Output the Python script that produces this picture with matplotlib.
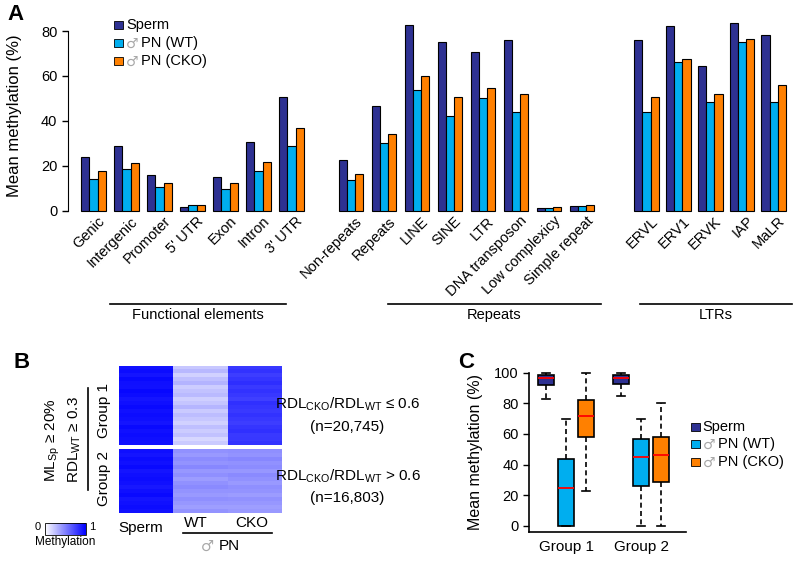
import matplotlib
matplotlib.use('Agg')
import matplotlib.pyplot as plt
import numpy as np
from matplotlib.patches import Rectangle
from matplotlib.lines import Line2D
from matplotlib.colors import LinearSegmentedColormap
import matplotlib.transforms as mtransforms

plt.rcParams['font.family'] = ['Liberation Sans', 'DejaVu Sans']
plt.rcParams['mathtext.fontset'] = 'custom'
plt.rcParams['mathtext.rm'] = 'Liberation Sans'
plt.rcParams['mathtext.it'] = 'Liberation Sans:italic'
plt.rcParams['mathtext.bf'] = 'Liberation Sans:bold'

# ---------------- Data: panel A ----------------
func_cats = ['Genic', 'Intergenic', 'Promoter', "5' UTR", 'Exon', 'Intron', "3' UTR"]
func_sperm = [23.7, 28.8, 15.9, 1.7, 14.8, 30.5, 50.7]
func_wt = [14.1, 18.4, 10.4, 2.3, 9.6, 17.5, 28.8]
func_cko = [17.5, 21.1, 12.4, 2.5, 12.1, 21.6, 36.7]

rep_cats = ['Non-repeats', 'Repeats', 'LINE', 'SINE', 'LTR', 'DNA transposon',
            'Low complexicy', 'Simple repeat']
rep_sperm = [22.4, 46.6, 82.7, 75.1, 70.5, 76.1, 1.0, 2.0]
rep_wt = [13.5, 30.1, 53.7, 42.3, 50.3, 43.8, 1.3, 2.1]
rep_cko = [16.4, 34.1, 60.0, 50.6, 54.6, 51.8, 1.5, 2.6]

ltr_cats = ['ERVL', 'ERV1', 'ERVK', 'IAP', 'MaLR']
ltr_sperm = [75.8, 82.2, 64.4, 83.4, 78.1]
ltr_wt = [44.1, 66.3, 48.4, 75.2, 48.4]
ltr_cko = [50.6, 67.5, 52.0, 76.4, 55.8]

section_names = ['Functional elements', 'Repeats', 'LTRs']
series_names = ['Sperm', 'PN (WT)', 'PN (CKO)']
colors = ['#2E3192', '#00AEEF', '#FF8000']

# ---------------- Data: panel B (heatmap rows) ----------------
g1_sperm = [0.93, 0.95, 0.92, 0.96, 0.94, 0.93, 0.97, 0.95, 0.92, 0.94,
            0.96, 0.93, 0.95, 0.94, 0.92, 0.96, 0.93, 0.95, 0.94, 0.93]
g1_wt = [0.22, 0.28, 0.18, 0.25, 0.30, 0.20, 0.24, 0.27, 0.19, 0.23,
         0.29, 0.21, 0.26, 0.22, 0.18, 0.25, 0.20, 0.24, 0.16, 0.21]
g1_cko = [0.78, 0.80, 0.76, 0.79, 0.82, 0.77, 0.80, 0.78, 0.75, 0.81,
          0.79, 0.77, 0.80, 0.78, 0.76, 0.79, 0.81, 0.77, 0.78, 0.80]
g2_sperm = [0.94, 0.92, 0.95, 0.93, 0.96, 0.92, 0.94, 0.95, 0.93, 0.91,
            0.94, 0.96, 0.92, 0.93, 0.95, 0.93]
g2_wt = [0.43, 0.40, 0.45, 0.42, 0.47, 0.41, 0.44, 0.39, 0.43, 0.46,
         0.42, 0.40, 0.44, 0.41, 0.38, 0.42]
g2_cko = [0.44, 0.42, 0.47, 0.43, 0.45, 0.41, 0.46, 0.43, 0.40, 0.44,
          0.42, 0.39, 0.43, 0.41, 0.38, 0.40]
heat_cols = ['Sperm', 'WT', 'CKO']

# ---------------- Data: panel C (box stats) ----------------
box_groups = ['Group 1', 'Group 2']
# order per group: Sperm, WT, CKO ; (whislo, q1, med, q3, whishi)
box_g1 = [(82.8, 92.2, 96.7, 98.5, 100.0),
          (0.0, 0.0, 24.8, 43.8, 69.7),
          (22.7, 58.2, 71.7, 82.2, 100.0)]
box_g2 = [(85.0, 92.8, 96.5, 98.5, 100.0),
          (0.0, 26.1, 45.1, 56.7, 69.7),
          (0.0, 28.8, 46.2, 58.2, 80.4)]

# ---------------- Figure ----------------
W, H = 800, 561
fig = plt.figure(figsize=(W / 100, H / 100), dpi=100)

MALE = '\u2642'
MALE_KW = dict(family=['DejaVu Sans', 'Liberation Sans'], color='#a8a8a8')


def fx(px):
    return px / W


def fy(py):
    return 1 - py / H


def line(x0, y0, x1, y1, lw=1.2):
    fig.add_artist(Line2D([fx(x0), fx(x1)], [fy(y0), fy(y1)],
                          transform=fig.transFigure, color='black', lw=lw))


def legend(xsq, ys, fs=10.5):
    for y, c, name in zip(ys, colors, series_names):
        fig.add_artist(Rectangle((fx(xsq), fy(y + 4)), 9 / W, 8 / H,
                                 transform=fig.transFigure, facecolor=c,
                                 edgecolor='black', lw=0.6))
        if name == 'Sperm':
            fig.text(fx(xsq + 12), fy(y), name, va='center', ha='left', fontsize=fs)
        else:
            fig.text(fx(xsq + 12), fy(y + 0.5), MALE, va='center', ha='left',
                     fontsize=fs - 0.5, **MALE_KW)
            fig.text(fx(xsq + 27), fy(y), name, va='center', ha='left', fontsize=fs)


# ---------------- Panel A ----------------
axA = fig.add_axes([fx(67.7), fy(210.6), fx(795) - fx(67.7), (210.6 - 19.8) / H])
sections = [(func_cats, func_sperm, func_wt, func_cko, 0.0, 1.0),
            (rep_cats, rep_sperm, rep_wt, rep_cko, 7.8, 1.0),
            (ltr_cats, ltr_sperm, ltr_wt, ltr_cko, 16.75, 0.965)]
all_pos, all_labels = [], []
for cats, s, w, c, start, step in sections:
    pos = start + step * np.arange(len(cats))
    for k, vals in enumerate([s, w, c]):
        axA.bar(pos + (k - 1) * 0.25, vals, width=0.25, color=colors[k],
                edgecolor='black', linewidth=0.8, clip_on=False)
    all_pos.extend(pos)
    all_labels.extend(cats)

axA.set_xlim(-0.78, 21.25)
axA.set_ylim(0, 85)
axA.set_yticks([0, 20, 40, 60, 80])
axA.tick_params(axis='y', labelsize=10.5, length=4, width=1)
axA.spines['left'].set_bounds(0, 80)
for sp in ['top', 'right', 'bottom']:
    axA.spines[sp].set_visible(False)
axA.set_xticks(all_pos)
axA.set_xticklabels(all_labels, rotation=45, ha='right', va='center',
                    rotation_mode='anchor', fontsize=10.5)
axA.tick_params(axis='x', length=0, pad=6)
offset = mtransforms.ScaledTranslation(9 / 100, 0, fig.dpi_scale_trans)
for lab in axA.get_xticklabels():
    lab.set_transform(lab.get_transform() + offset)
axA.set_ylabel('Mean methylation (%)', fontsize=12)
axA.yaxis.set_label_coords(-0.063, 0.5)

line(110, 304, 286, 304)
fig.text(fx(198), fy(315), section_names[0], ha='center', va='center', fontsize=10.5)
line(388, 304, 600.7, 304)
fig.text(fx(494), fy(315), section_names[1], ha='center', va='center', fontsize=10.5)
line(640, 304, 791.7, 304)
fig.text(fx(716), fy(315), section_names[2], ha='center', va='center', fontsize=10.5)

legend(114, [25, 43, 61])
fig.text(fx(15), fy(15), 'A', fontsize=16, weight='bold', ha='center', va='center')

# ---------------- Panel B ----------------
cmap = LinearSegmentedColormap.from_list('wb', ['#FFFFFF', '#0000FF'])
axB1 = fig.add_axes([fx(119), fy(445), fx(281.7) - fx(119), (445 - 365.7) / H])
axB2 = fig.add_axes([fx(119), fy(512.7), fx(281.7) - fx(119), (512.7 - 449.3) / H])
im = axB1.imshow(np.column_stack([g1_sperm, g1_wt, g1_cko]), aspect='auto',
                 cmap=cmap, vmin=0, vmax=1, interpolation='nearest')
axB2.imshow(np.column_stack([g2_sperm, g2_wt, g2_cko]), aspect='auto',
            cmap=cmap, vmin=0, vmax=1, interpolation='nearest')
for a in (axB1, axB2):
    a.set_axis_off()

fig.text(fx(53), fy(440), r'ML$_{\mathrm{Sp}}$ ≥ 20%', rotation=90,
         ha='center', va='center', fontsize=11)
fig.text(fx(75), fy(440), r'RDL$_{\mathrm{WT}}$ ≥ 0.3', rotation=90,
         ha='center', va='center', fontsize=11)
line(88.3, 388, 88.3, 490)
fig.text(fx(104), fy(410), box_groups[0], rotation=90, ha='center', va='center', fontsize=11)
fig.text(fx(104), fy(479), box_groups[1], rotation=90, ha='center', va='center', fontsize=11)

fig.text(fx(348), fy(404), r'RDL$_{\mathrm{CKO}}$/RDL$_{\mathrm{WT}}$ ≤ 0.6',
         ha='center', va='center', fontsize=11)
fig.text(fx(347), fy(427), '(n=20,745)', ha='center', va='center', fontsize=11)
fig.text(fx(348), fy(476.7), r'RDL$_{\mathrm{CKO}}$/RDL$_{\mathrm{WT}}$ > 0.6',
         ha='center', va='center', fontsize=11)
fig.text(fx(347), fy(498.3), '(n=16,803)', ha='center', va='center', fontsize=11)

fig.text(fx(141), fy(528), heat_cols[0], ha='center', va='center', fontsize=11)
fig.text(fx(196), fy(523), heat_cols[1], ha='center', va='center', fontsize=11)
fig.text(fx(251.7), fy(523), heat_cols[2], ha='center', va='center', fontsize=11)
line(182.7, 532.7, 271.7, 532.7)
fig.text(fx(207), fy(546), MALE, ha='center', va='center', fontsize=10.5, **MALE_KW)
fig.text(fx(229), fy(546), 'PN', ha='center', va='center', fontsize=11)

cax = fig.add_axes([fx(45), fy(535), fx(86) - fx(45), 12 / H])
cb = fig.colorbar(im, cax=cax, orientation='horizontal')
cb.set_ticks([])
cb.outline.set_linewidth(0.6)
fig.text(fx(38), fy(527), '0', ha='center', va='center', fontsize=8)
fig.text(fx(92), fy(527), '1', ha='center', va='center', fontsize=8)
fig.text(fx(65), fy(542), 'Methylation', ha='center', va='center', fontsize=8.5)
fig.text(fx(22), fy(363), 'B', fontsize=16, weight='bold', ha='center', va='center')

# ---------------- Panel C ----------------
axC = fig.add_axes([fx(529.3), fy(531.7), fx(686) - fx(529.3), (531.7 - 372.7) / H])
stats, positions, fcols = [], [], []
for gi, grp in enumerate([box_g1, box_g2]):
    for k, (lo, q1, med, q3, hi) in enumerate(grp):
        stats.append(dict(whislo=lo, q1=q1, med=med, q3=q3, whishi=hi, fliers=[]))
        positions.append(gi + 1 + (k - 1) * 0.267)
        fcols.append(colors[k])
bp = axC.bxp(stats, positions=positions, widths=0.213, patch_artist=True,
             showfliers=False, capwidths=0.11,
             boxprops=dict(edgecolor='black', linewidth=1.2),
             medianprops=dict(color='red', linewidth=1.3),
             whiskerprops=dict(color='black', linewidth=1.2, linestyle=(0, (3, 2))),
             capprops=dict(color='black', linewidth=1.2))
for patch, c in zip(bp['boxes'], fcols):
    patch.set_facecolor(c)
for key in ['boxes', 'medians', 'whiskers', 'caps']:
    for art in bp[key]:
        art.set_clip_on(False)
axC.set_xlim(0.51, 2.6)
axC.set_ylim(-3.9, 100)
axC.set_yticks([0, 20, 40, 60, 80, 100])
axC.set_xticks([1, 2])
axC.set_xticklabels(box_groups, fontsize=11)
axC.tick_params(axis='x', length=0, pad=6)
axC.tick_params(axis='y', labelsize=10.5, length=4, width=1)
for sp in ['top', 'right']:
    axC.spines[sp].set_visible(False)
axC.spines['left'].set_linewidth(1.2)
axC.spines['bottom'].set_linewidth(1.2)
axC.set_ylabel('Mean methylation (%)', fontsize=11.5)
axC.yaxis.set_label_coords(-0.295, 0.5)

legend(690.7, [426.7, 444, 462.3])
fig.text(fx(465.7), fy(363), 'C', fontsize=16, weight='bold', ha='center', va='center')

fig.savefig('out.png', dpi=100)
